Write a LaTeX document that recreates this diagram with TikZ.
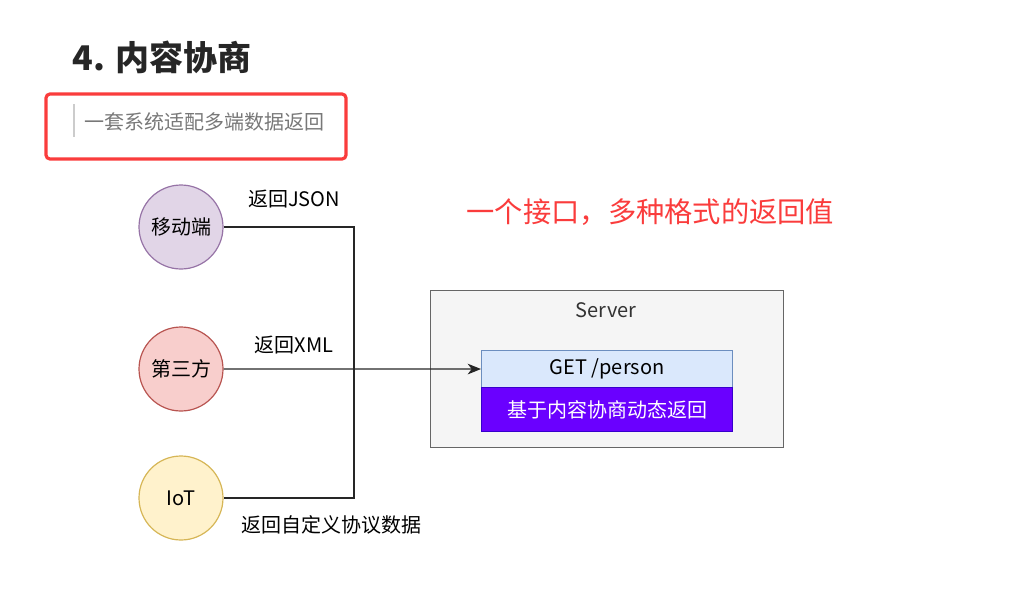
\documentclass[tikz,border=0pt]{standalone}
\usepackage{fontspec}
\setmainfont{Noto Sans CJK SC}
\usetikzlibrary{arrows.meta, positioning}
\definecolor{alertred}{RGB}{250,60,60}
\definecolor{quotegray}{RGB}{120,120,120}
\definecolor{purplefill}{RGB}{225,213,231}
\definecolor{purpleline}{RGB}{150,115,166}
\definecolor{redfill}{RGB}{248,206,204}
\definecolor{redline}{RGB}{184,84,80}
\definecolor{yellowfill}{RGB}{255,242,204}
\definecolor{yellowline}{RGB}{214,182,86}
\definecolor{bluefill}{RGB}{218,232,252}
\definecolor{blueline}{RGB}{108,142,191}
\definecolor{violet}{RGB}{106,0,255}
\definecolor{violetline}{RGB}{55,0,204}

\begin{document}
\begin{tikzpicture}[x=0.75pt, y=-0.75pt,
  client/.style={circle, minimum size=63pt, inner sep=0pt, line width=0.9pt, font=\fontsize{15}{18}\selectfont},
  label/.style={font=\fontsize{15}{18}\selectfont},
  wire/.style={line width=0.9pt, black!85}]
  \useasboundingbox (0,0) rectangle (1017,604);

  % heading and quote
  \node[anchor=west, font=\fontsize{25.5}{30}\selectfont\bfseries, black!85] (title) at (68,57) {4. 内容协商};
  \draw[alertred, line width=2.4pt, rounded corners=3pt] (46,94) rectangle (346,159);
  \draw[black!20, line width=2.2pt] (74,104) -- (74,137);
  \node[anchor=west, font=\fontsize{15}{18}\selectfont, quotegray] (quote) at (80,122) {一套系统适配多端数据返回};
  \node[anchor=west, font=\fontsize{21.2}{25}\selectfont, alertred] (slogan) at (462,212) {一个接口，多种格式的返回值};

  % clients
  \node[client, draw=purpleline, fill=purplefill] (mobile) at (181,227) {移动端};
  \node[client, draw=redline, fill=redfill] (third) at (181,369) {第三方};
  \node[client, draw=yellowline, fill=yellowfill] (iot) at (181,498) {IoT};

  % server
  \node[draw=black!60, fill=black!4, line width=0.8pt, minimum width=264.75pt, minimum height=117.75pt, anchor=north west, inner sep=0pt] (server) at (430,290) {};
  \node[label, black!80] (servername) at (606,310) {Server};
  \node[draw=blueline, fill=bluefill, line width=0.8pt, minimum width=188.25pt, minimum height=27.75pt, anchor=north west, inner sep=0pt, label] (get) at (481,350) {GET /person};
  \node[draw=violetline, fill=violet, text=white, line width=0.8pt, minimum width=188.25pt, minimum height=33pt, anchor=north west, inner sep=0pt, label] (dyn) at (481,387) {基于内容协商动态返回};

  % connectors
  \coordinate (bus) at (354,369);
  \draw[wire] (mobile.east) -| (bus) |- (iot.east);
  \draw[wire, -{Stealth[length=10pt, width=8pt, inset=3pt]}] (third.east) -- (get.west);
  \node[label] (json) at (294,199) {返回JSON};
  \node[label] (xml) at (294,345) {返回XML};
  \node[label] (custom) at (331,525) {返回自定义协议数据};
\end{tikzpicture}
\end{document}
